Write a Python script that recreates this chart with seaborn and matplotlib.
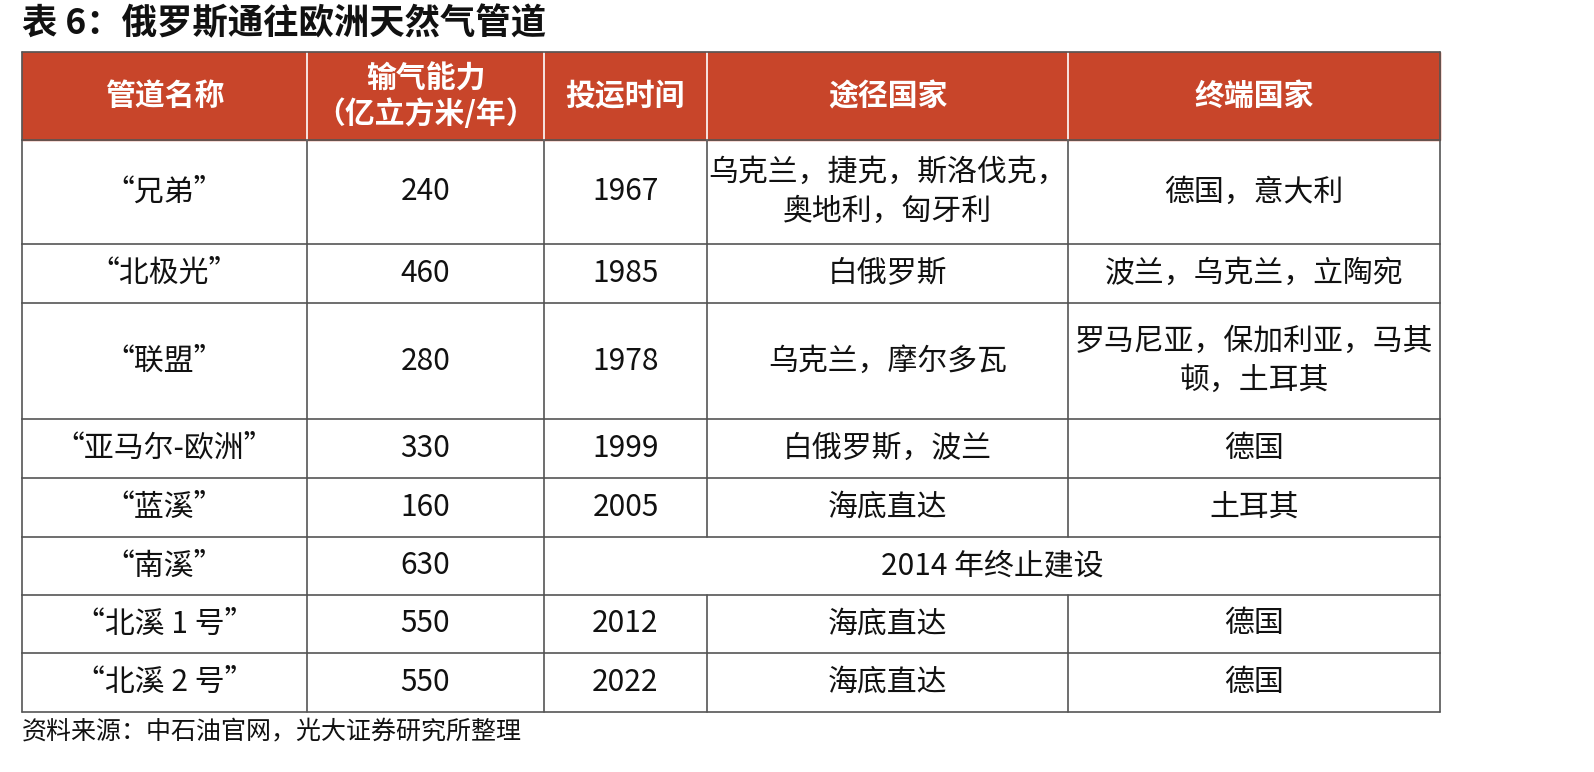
import matplotlib
matplotlib.use("Agg")
import matplotlib.pyplot as plt
import seaborn as sns
from matplotlib.patches import Rectangle

sns.set_theme(style="white")
plt.rcParams['font.family'] = ['Noto Sans CJK SC', 'DejaVu Sans']

title = "表 6：俄罗斯通往欧洲天然气管道"
source = "资料来源：中石油官网，光大证券研究所整理"
headers = ["管道名称", "输气能力\n（亿立方米/年）", "投运时间", "途径国家", "终端国家"]
names = ["“兄弟”", "“北极光”", "“联盟”", "“亚马尔-欧洲”", "“蓝溪”", "“南溪”", "“北溪 1 号”", "“北溪 2 号”"]
capacity = ["240", "460", "280", "330", "160", "630", "550", "550"]
years = ["1967", "1985", "1978", "1999", "2005", None, "2012", "2022"]
transit = ["乌克兰，捷克，斯洛伐克，\n奥地利，匈牙利", "白俄罗斯", "乌克兰，摩尔多瓦", "白俄罗斯，波兰",
           "海底直达", None, "海底直达", "海底直达"]
terminal = ["德国，意大利", "波兰，乌克兰，立陶宛", "罗马尼亚，保加利亚，马其\n顿，土耳其", "德国",
            "土耳其", None, "德国", "德国"]
merged_note = "2014 年终止建设"

W, H = 1594, 772
fig = plt.figure(figsize=(W/100, H/100), dpi=100)
ax = fig.add_axes([0, 0, 1, 1])
ax.set_xlim(0, W); ax.set_ylim(H, 0); ax.axis("off")

xs = [22, 307, 544, 707, 1068, 1440]
ys = [52, 140, 244, 303, 419, 478, 537, 595, 653, 712]
red = "#C8452A"
fs = 21.5

ax.text(22, 24, title, fontsize=25.5, fontweight="bold", va="center", ha="left", color="#111")
ax.add_patch(Rectangle((xs[0], ys[0]), xs[-1]-xs[0], ys[1]-ys[0], color=red, zorder=1))
for i, h in enumerate(headers):
    ax.text((xs[i]+xs[i+1])/2, (ys[0]+ys[1])/2, h, color="white", fontsize=fs, fontweight="bold",
            ha="center", va="center", linespacing=1.2, zorder=3)

lc = "#555555"
for r in range(len(names)):
    y0, y1 = ys[r+1], ys[r+2]
    yc = (y0+y1)/2
    row = [names[r], capacity[r], years[r], transit[r], terminal[r]]
    for c in range(5):
        if row[c] is None:
            continue
        ax.text((xs[c]+xs[c+1])/2, yc, row[c], fontsize=fs, ha="center", va="center",
                linespacing=1.35, color="#111")
    if years[r] is None:
        ax.text((xs[2]+xs[5])/2, yc, merged_note, fontsize=fs, ha="center", va="center", color="#111")
    ax.plot([xs[0], xs[-1]], [y1, y1], color=lc, lw=1.2)
    vx = xs if years[r] is not None else xs[:3] + [xs[-1]]
    for x in vx:
        ax.plot([x, x], [y0, y1], color=lc, lw=1.2)
for x in xs:
    ax.plot([x, x], [ys[0], ys[1]], color="white" if x not in (xs[0], xs[-1]) else lc, lw=1.2, zorder=2)
ax.plot([xs[0], xs[-1]], [ys[0], ys[0]], color=lc, lw=1.2, zorder=2)
ax.plot([xs[0], xs[-1]], [ys[1], ys[1]], color=lc, lw=1.2, zorder=2)

ax.text(22, 731, source, fontsize=18, ha="left", va="center", color="#111")
fig.savefig("out.png", dpi=100)
